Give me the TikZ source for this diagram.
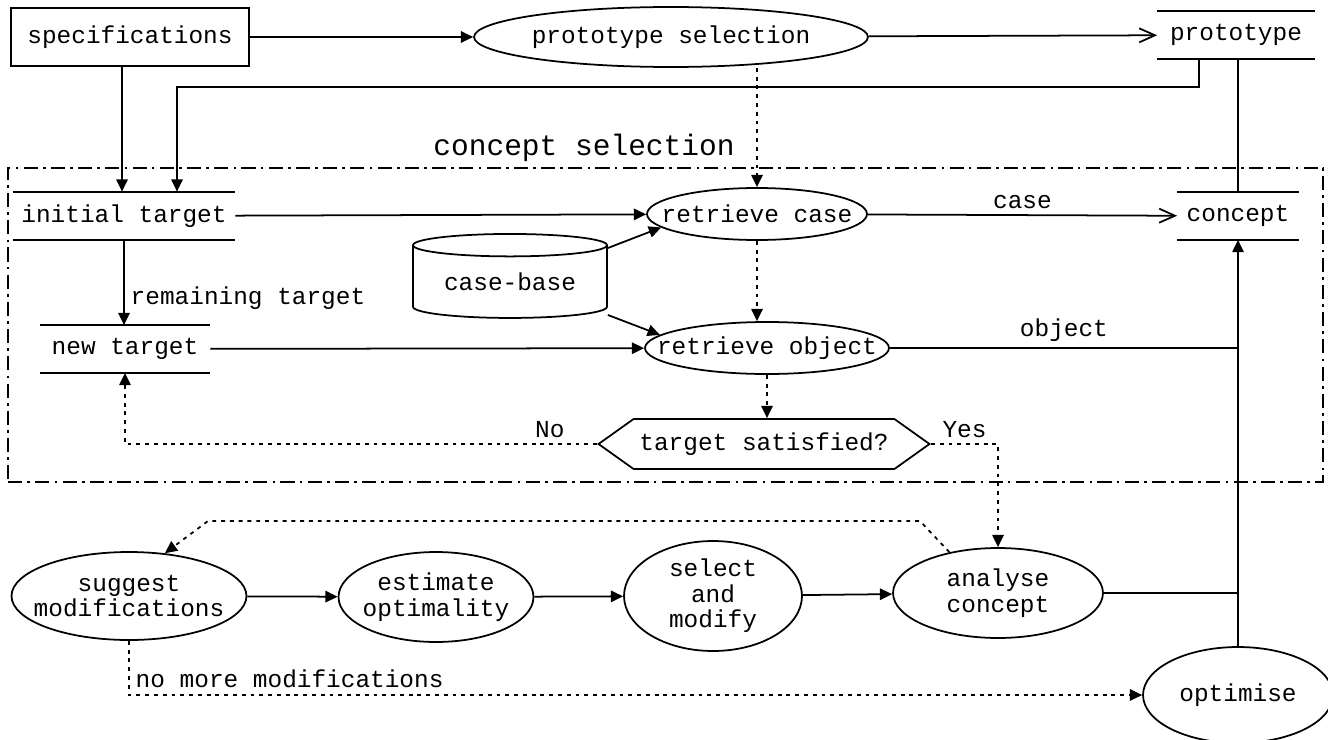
\documentclass[tikz,border=0pt]{standalone}
\usepackage{fontspec}
\setmonofont{Liberation Mono}
\usetikzlibrary{shapes.geometric,shapes.symbols,arrows.meta}

\begin{document}
\begin{tikzpicture}[x=0.02cm, y=-0.02cm, line width=1pt,
  every node/.style={font=\ttfamily\fontsize{13.9}{14.5}\selectfont},
  arr/.style={-{Triangle[length=7pt,width=6.5pt]}},
  openarr/.style={-{Straight Barb[length=9pt,width=8pt]}},
  dotline/.style={dash pattern=on 2.2pt off 2.8pt},
  oval/.style={draw, ellipse, inner sep=-2cm, align=center},
  store/.style={inner sep=0pt}]
\useasboundingbox (0,0) rectangle (1328,740);

\node[draw, dash pattern=on 8pt off 3pt on 1.5pt off 3pt, minimum width=26.3cm, minimum height=6.28cm] (csbox) at (665.5,325) {};
\node[font=\ttfamily\fontsize{16.8}{18}\selectfont] (cslabel) at (584,148) {concept selection};

\node[draw, minimum width=4.76cm, minimum height=1.16cm] (spec) at (130,37) {specifications};
\node[oval, minimum width=7.88cm, minimum height=1.2cm] (protosel) at (671,37) {prototype selection};
\node[store, minimum width=3.12cm, minimum height=0.92cm] (proto) at (1236,35) {prototype};

\node[store, minimum width=4.42cm, minimum height=0.94cm] (init) at (124,216) {initial target};
\node[store, minimum width=3.38cm, minimum height=0.92cm] (newt) at (125,349) {new target};
\node[store, minimum width=2.4cm, minimum height=0.92cm] (concept) at (1238,216) {concept};
\foreach \s in {proto,init,newt,concept}
  \draw (\s.north west) -- (\s.north east) (\s.south west) -- (\s.south east);

\node[oval, minimum width=4.4cm, minimum height=1.04cm] (rcase) at (757,214) {retrieve case};
\node[oval, minimum width=4.88cm, minimum height=1.04cm] (robj) at (767,348) {retrieve object};
\node[draw, cylinder, shape border rotate=90, aspect=0.17, minimum width=3.88cm, minimum height=1.68cm, inner sep=0pt] (db) at (510,282) {case-base};
\node[draw, signal, signal to=east and west, signal pointer angle=71, minimum width=6.62cm, minimum height=1cm, inner sep=1pt] (hex) at (764,444) {target satisfied?};

\node[oval, minimum width=4.7cm, minimum height=1.76cm] (suggest) at (129,596) {suggest\\modifications};
\node[oval, minimum width=3.9cm, minimum height=1.8cm] (estimate) at (436,597) {estimate\\optimality};
\node[oval, minimum width=3.56cm, minimum height=2.2cm] (select) at (713,596) {select\\and\\modify};
\node[oval, minimum width=4.2cm, minimum height=1.8cm] (analyse) at (998,593) {analyse\\concept};
\node[oval, minimum width=3.8cm, minimum height=1.92cm] (optimise) at (1238,695) {optimise};

\coordinate (fbR) at (1199,87);
\coordinate (fbL) at (177,87);
\coordinate (loopR) at (920,521);
\coordinate (loopL) at (208,521);

\draw[arr] (spec) -- (protosel);
\draw[openarr] (protosel) -- (proto);
\draw[arr] ([xshift=-0.16cm]spec.south) -- ([xshift=-0.16cm]spec.south |- init.north);
\draw[arr] (proto.south -| fbR) -- (fbR) -- (fbL) -- (fbL |- init.north);
\draw (proto.south -| concept.north) -- (concept.north);
\draw[dotline, arr] (rcase.north |- protosel.south) -- (rcase.north);

\draw[arr] (init) -- (rcase);
\draw[openarr] (rcase) -- node[above] {case} (concept);
\draw[arr] ([yshift=0.68cm]db.east) -- (rcase.188);
\draw[arr] ([yshift=-0.66cm]db.east) -- (robj.173);
\draw[arr] (init.south) -- node[pos=0.68, right] {remaining target} (init.south |- newt.north);
\draw[arr] (newt) -- (robj);
\draw (robj) -- node[above] {object} (robj -| optimise.north);
\draw[dotline, arr] (rcase.south) -- (rcase.south |- robj.north);
\draw[dotline, arr] (robj.south) -- (robj.south |- hex.north);
\draw[dotline, arr] (hex.west) -| node[pos=0.05, above] {No} (newt.south);
\draw[dotline, arr] (hex.east) -| node[pos=0.25, above] {Yes} (analyse.north);

\draw[dotline, arr] (analyse.140) -- (loopR) -- (loopL) -- (suggest.50);
\draw[arr] (suggest) -- (estimate);
\draw[arr] (estimate) -- (select);
\draw[arr] (select) -- (analyse);
\draw (analyse) -- (analyse -| optimise.north);
\draw[arr] (optimise.north) -- (optimise.north |- concept.south);
\draw[dotline, arr] (suggest.south) |- node[pos=0.5, anchor=south west] {no more modifications} (optimise.west);
\end{tikzpicture}
\end{document}
